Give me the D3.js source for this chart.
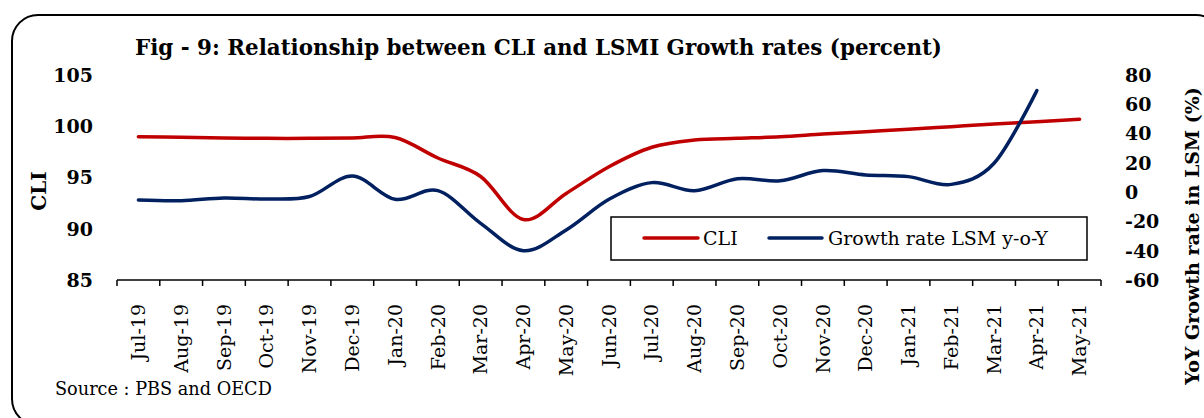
<!DOCTYPE html>
<html>
<head>
    <title>Fig - 9: Relationship between CLI and LSMI Growth rates</title>
    <script src="https://d3js.org/d3.v7.min.js"></script>
    <style>
        body {
            margin: 0;
            background: #fff;
            font-family: "DejaVu Serif", serif;
        }
        svg text {
            fill: #000;
        }
    </style>
</head>
<body>
    <div id="chart"></div>

    <script>
        // Months on the x axis
        const months = ["Jul-19", "Aug-19", "Sep-19", "Oct-19", "Nov-19", "Dec-19",
            "Jan-20", "Feb-20", "Mar-20", "Apr-20", "May-20", "Jun-20",
            "Jul-20", "Aug-20", "Sep-20", "Oct-20", "Nov-20", "Dec-20",
            "Jan-21", "Feb-21", "Mar-21", "Apr-21", "May-21"];

        // CLI, left axis
        const cli = [98.98, 98.92, 98.86, 98.82, 98.82, 98.86,
            98.9, 96.9, 95.1, 90.9, 93.45, 96.05,
            97.95, 98.66, 98.82, 98.98, 99.24, 99.47,
            99.7, 99.96, 100.22, 100.45, 100.68];

        // LSM growth y-o-Y, right axis (no value for May-21)
        const lsm = [-5.4, -5.8, -4.0, -4.7, -3.0, 11.0,
            -4.9, 1.0, -21.3, -40.0, -25.8, -4.9,
            6.5, 1.0, 9.2, 7.8, 14.7, 11.7,
            10.6, 5.3, 19.7, 69.3, null];

        const leftTicks = [85, 90, 95, 100, 105];
        const rightTicks = [-60, -40, -20, 0, 20, 40, 60, 80];

        const red = "#c00000";
        const navy = "#002060";

        const width = 1204, height = 418;

        const svg = d3.select("#chart")
            .append("svg")
            .attr("width", width)
            .attr("height", height);

        // Rounded frame, runs off the right and bottom edges
        svg.append("rect")
            .attr("x", 12)
            .attr("y", 15)
            .attr("width", 1210)
            .attr("height", 410)
            .attr("rx", 26)
            .attr("fill", "none")
            .attr("stroke", "#000")
            .attr("stroke-width", 2);

        // Scales
        const x = d3.scaleBand().domain(months).range([117, 1101]);
        const yL = d3.scaleLinear().domain([85, 105]).range([280, 75]);
        const yR = d3.scaleLinear().domain([-60, 80]).range([280, 75]);

        // Title
        svg.append("text")
            .attr("x", 135)
            .attr("y", 55)
            .attr("font-size", 21.4)
            .attr("font-weight", "bold")
            .text("Fig - 9: Relationship between CLI and LSMI Growth rates (percent)");

        // X axis: line with ticks at band boundaries
        const axis = svg.append("g")
            .attr("stroke", "#000")
            .attr("stroke-width", 1.5);

        axis.append("line")
            .attr("x1", x.range()[0])
            .attr("x2", x.range()[1])
            .attr("y1", 280)
            .attr("y2", 280);

        const bounds = months.map(m => x(m)).concat([x.range()[1]]);
        axis.selectAll("line.tick")
            .data(bounds)
            .join("line")
            .attr("class", "tick")
            .attr("x1", d => d)
            .attr("x2", d => d)
            .attr("y1", 280)
            .attr("y2", 286);

        // Month labels, rotated
        svg.append("g")
            .selectAll("text")
            .data(months)
            .join("text")
            .attr("transform", d => `translate(${x(d) + x.bandwidth() / 2},304) rotate(-90)`)
            .attr("text-anchor", "end")
            .attr("dy", "0.35em")
            .attr("font-size", 19)
            .text(d => d);

        // Left axis labels
        svg.append("g")
            .selectAll("text")
            .data(leftTicks)
            .join("text")
            .attr("x", 93)
            .attr("y", d => yL(d))
            .attr("dy", "0.36em")
            .attr("text-anchor", "end")
            .attr("font-size", 19)
            .attr("font-weight", "bold")
            .text(d => d);

        // Right axis labels
        svg.append("g")
            .selectAll("text")
            .data(rightTicks)
            .join("text")
            .attr("x", 1125)
            .attr("y", d => yR(d))
            .attr("dy", "0.36em")
            .attr("font-size", 19)
            .attr("font-weight", "bold")
            .text(d => d);

        // Axis titles
        svg.append("text")
            .attr("transform", "translate(46,191) rotate(-90)")
            .attr("text-anchor", "middle")
            .attr("font-size", 20)
            .attr("font-weight", "bold")
            .text("CLI");

        svg.append("text")
            .attr("transform", "translate(1199,236) rotate(-90)")
            .attr("text-anchor", "middle")
            .attr("font-size", 19)
            .attr("font-weight", "bold")
            .text("YoY Growth rate in LSM (%)");

        // Lines
        const cx = (d, i) => x(months[i]) + x.bandwidth() / 2;

        const cliLine = d3.line()
            .x(cx)
            .y(d => yL(d))
            .curve(d3.curveCardinal);

        const lsmLine = d3.line()
            .defined(d => d !== null)
            .x(cx)
            .y(d => yR(d))
            .curve(d3.curveCardinal);

        // Legend box (drawn under the lines, like the original)
        const legend = svg.append("g");
        legend.append("rect")
            .attr("x", 611)
            .attr("y", 217)
            .attr("width", 476)
            .attr("height", 43)
            .attr("fill", "#fff")
            .attr("stroke", "#000")
            .attr("stroke-width", 1.5);

        const items = [
            {name: "CLI", color: red, x1: 644, x2: 698, tx: 703},
            {name: "Growth rate LSM y-o-Y", color: navy, x1: 769, x2: 822, tx: 828}
        ];

        legend.selectAll("line")
            .data(items)
            .join("line")
            .attr("x1", d => d.x1)
            .attr("x2", d => d.x2)
            .attr("y1", 238)
            .attr("y2", 238)
            .attr("stroke", d => d.color)
            .attr("stroke-width", 3.5)
            .attr("stroke-linecap", "round");

        legend.selectAll("text")
            .data(items)
            .join("text")
            .attr("x", d => d.tx)
            .attr("y", 238)
            .attr("dy", "0.35em")
            .attr("font-size", 19)
            .text(d => d.name);

        svg.append("path")
            .datum(cli)
            .attr("d", cliLine)
            .attr("fill", "none")
            .attr("stroke", red)
            .attr("stroke-width", 3.5)
            .attr("stroke-linecap", "round");

        svg.append("path")
            .datum(lsm)
            .attr("d", lsmLine)
            .attr("fill", "none")
            .attr("stroke", navy)
            .attr("stroke-width", 3.5)
            .attr("stroke-linecap", "round");

        // Source note
        svg.append("text")
            .attr("x", 55)
            .attr("y", 395)
            .attr("font-size", 17.7)
            .text("Source : PBS and OECD");
    </script>
</body>
</html>
